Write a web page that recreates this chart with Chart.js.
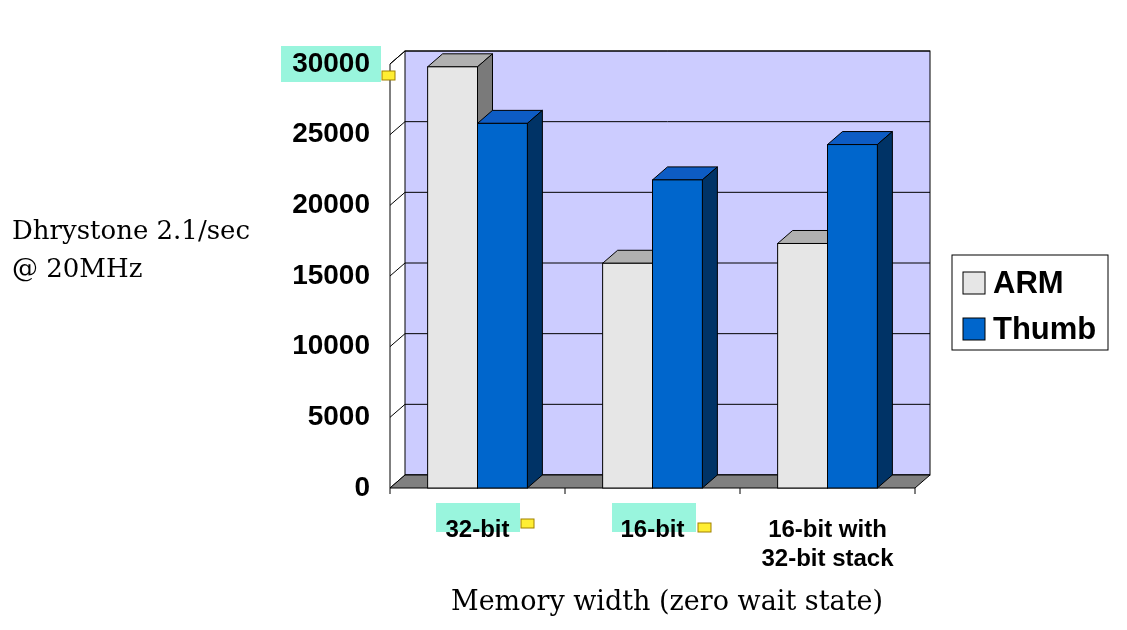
<!DOCTYPE html>
<html><head><meta charset="utf-8">
<script src="https://cdn.jsdelivr.net/npm/chart.js@4"></script>
<style>html,body{margin:0;background:#fff}#c{display:block}</style>
</head><body>
<canvas id="c" width="1127" height="630"></canvas>
<script>
const categories = ['32-bit', '16-bit', ['16-bit with', '32-bit stack']];
const armValues = [29800, 15900, 17300];
const thumbValues = [25800, 21800, 24300];
const yTicks = [0, 5000, 10000, 15000, 20000, 25000, 30000];

const DX = 15, DY = -13;
const faceColors = [['#e6e6e6', '#b0b0b0', '#7a7a7a'], ['#0066cc', '#0d5cc4', '#003366']];

// back wall, floor, gridlines, then the 3D bars bar by bar
const wallPlugin = {
    id: 'wall',
    beforeDatasetsDraw(chart) {
        const {ctx, chartArea: a, scales: {y}} = chart;
        ctx.save();
        ctx.fillStyle = '#ccccff';
        ctx.strokeStyle = '#000';
        ctx.lineWidth = 1;
        ctx.fillRect(a.left + DX, a.top + DY, a.right - a.left, a.bottom - a.top);
        ctx.strokeRect(a.left + DX, a.top + DY, a.right - a.left, a.bottom - a.top);
        ctx.beginPath();
        ctx.moveTo(a.left, a.bottom); ctx.lineTo(a.left, a.top);
        ctx.lineTo(a.left + DX, a.top + DY);
        ctx.stroke();
        yTicks.forEach(v => {
            const py = y.getPixelForValue(v);
            ctx.beginPath();
            ctx.moveTo(a.left, py); ctx.lineTo(a.left + DX, py + DY);
            ctx.lineTo(a.right + DX, py + DY);
            ctx.stroke();
        });
        ctx.fillStyle = '#808080';
        ctx.beginPath();
        ctx.moveTo(a.left, a.bottom); ctx.lineTo(a.right, a.bottom);
        ctx.lineTo(a.right + DX, a.bottom + DY); ctx.lineTo(a.left + DX, a.bottom + DY);
        ctx.closePath(); ctx.fill(); ctx.stroke();
        for (let i = 0; i <= categories.length; i++) {
            const px = a.left + (a.right - a.left) * i / categories.length;
            ctx.beginPath(); ctx.moveTo(px, a.bottom); ctx.lineTo(px, a.bottom + 6); ctx.stroke();
        }

        // bars: category by category, ARM then Thumb, so Thumb covers ARM's side
        const metas = chart.data.datasets.map((ds, di) => chart.getDatasetMeta(di).data);
        for (let ci = 0; ci < categories.length; ci++) {
            metas.forEach((bars, di) => {
                const bar = bars[ci];
                const [front, top, side] = faceColors[di];
                const l = bar.x - bar.width / 2, r = bar.x + bar.width / 2, t = bar.y, b = bar.base;
                ctx.fillStyle = top;
                ctx.beginPath();
                ctx.moveTo(l, t); ctx.lineTo(l + DX, t + DY); ctx.lineTo(r + DX, t + DY); ctx.lineTo(r, t);
                ctx.closePath(); ctx.fill(); ctx.stroke();
                ctx.fillStyle = side;
                ctx.beginPath();
                ctx.moveTo(r, t); ctx.lineTo(r + DX, t + DY); ctx.lineTo(r + DX, b + DY); ctx.lineTo(r, b);
                ctx.closePath(); ctx.fill(); ctx.stroke();
                ctx.fillStyle = front;
                ctx.fillRect(l, t, r - l, b - t);
                ctx.strokeRect(l, t, r - l, b - t);
            });
        }
        ctx.restore();
    }
};

const decoPlugin = {
    id: 'deco',
    beforeDraw(chart) {
        const {ctx} = chart;
        ctx.save();
        ctx.fillStyle = '#99f5dd';
        ctx.fillRect(281, 46, 100, 36);
        ctx.fillRect(436, 503, 84, 29);
        ctx.fillRect(612, 503, 84, 29);
        ctx.restore();
    },
    afterDraw(chart) {
        const {ctx} = chart;
        ctx.save();
        ctx.fillStyle = '#000';
        ctx.font = '26px "DejaVu Serif", serif';
        ctx.textBaseline = 'middle';
        ctx.textAlign = 'left';
        ctx.fillText('Dhrystone 2.1/sec', 12, 232);
        ctx.fillText('@ 20MHz', 12, 270);
        ctx.textAlign = 'center';
        ctx.font = '27px "DejaVu Serif", serif';
        ctx.fillText('Memory width (zero wait state)', 667, 603);
        ctx.strokeStyle = '#000';
        ctx.lineWidth = 1;
        ctx.fillStyle = '#fff';
        ctx.fillRect(952, 255, 156, 95);
        ctx.strokeRect(952, 255, 156, 95);
        const items = [['ARM', '#e6e6e6', 283], ['Thumb', '#0066cc', 329]];
        ctx.font = 'bold 31px "Liberation Sans", Arial, sans-serif';
        ctx.textAlign = 'left';
        items.forEach(([label, col, py]) => {
            ctx.fillStyle = col;
            ctx.fillRect(963, py - 11, 22, 22);
            ctx.strokeRect(963, py - 11, 22, 22);
            ctx.fillStyle = '#000';
            ctx.fillText(label, 993, py + 1);
        });
        [[388, 76], [527, 524], [704, 528]].forEach(([px, py]) => {
            ctx.fillStyle = '#ffee33';
            ctx.fillRect(px - 6, py - 5, 13, 9);
            ctx.strokeStyle = '#a08000';
            ctx.strokeRect(px - 6, py - 5, 13, 9);
        });
        ctx.restore();
    }
};

new Chart(document.getElementById('c'), {
    type: 'bar',
    data: {
        labels: categories,
        datasets: [
            {label: 'ARM', data: armValues, backgroundColor: 'rgba(0,0,0,0)', borderWidth: 0},
            {label: 'Thumb', data: thumbValues, backgroundColor: 'rgba(0,0,0,0)', borderWidth: 0}
        ]
    },
    options: {
        responsive: false,
        animation: false,
        layout: {padding: {top: 64, right: 212, left: 0, bottom: 0}},
        plugins: {legend: {display: false}, tooltip: {enabled: false}},
        datasets: {bar: {categoryPercentage: 0.57, barPercentage: 1}},
        scales: {
            x: {
                grid: {display: false},
                border: {display: false},
                ticks: {color: '#000', padding: 20, maxRotation: 0, font: {family: '"Liberation Sans", Arial', size: 24, weight: 'bold'}},
                afterFit: s => { s.height = 142; }
            },
            y: {
                min: 0, max: 30000,
                afterBuildTicks: s => { s.ticks = yTicks.map(v => ({value: v})); },
                grid: {display: false},
                border: {display: false},
                ticks: {color: '#000', padding: 12, callback: v => String(v), font: {family: '"Liberation Sans", Arial', size: 28, weight: 'bold'}},
                afterFit: s => { s.width = 390; }
            }
        }
    },
    plugins: [wallPlugin, decoPlugin]
});
</script>
</body></html>
